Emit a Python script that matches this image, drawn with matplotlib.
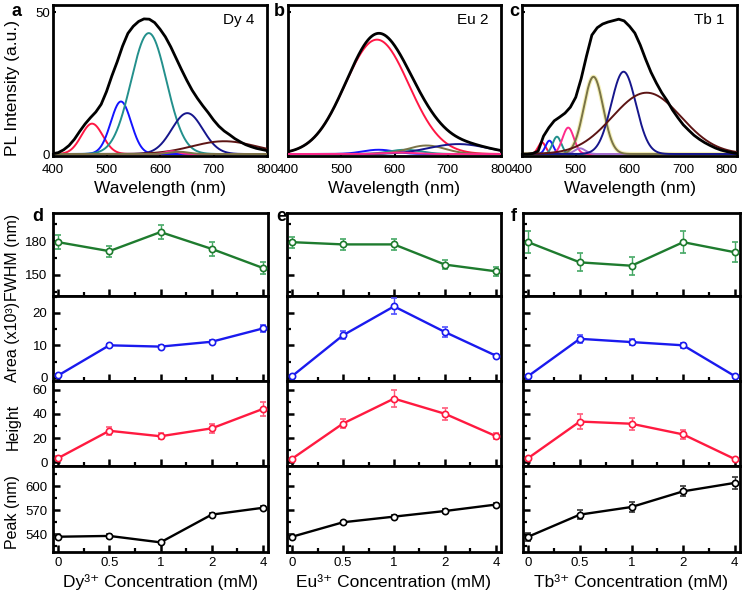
import numpy as np
import matplotlib
matplotlib.use('Agg')
import matplotlib.pyplot as plt
from matplotlib.ticker import MultipleLocator, FixedLocator

plt.rcParams['font.family'] = ['Liberation Sans', 'DejaVu Sans']
plt.rcParams['mathtext.fontset'] = 'custom'
plt.rcParams['mathtext.rm'] = 'Liberation Sans'

# ---------------- data: PL spectra ----------------
wavelength_ticks = [400, 500, 600, 700, 800]

black_wl = list(range(400, 801, 10))
dy_black = [0.1, 0.5, 1.5, 3.0, 5.2, 8.0, 10.6, 12.8, 14.8, 17.5, 22.0,
            27.5, 32.5, 38.0, 42.5, 45.0, 46.7, 47.6, 47.5, 46.3, 44.0,
            41.3, 37.8, 33.8, 29.8, 26.0, 22.5, 19.6, 17.0, 14.6, 12.0,
            9.8, 8.1, 6.8, 5.4, 4.3, 3.3, 2.6, 2.0, 1.6, 1.2]
tb_black = [0.0, 0.0, 0.2, 1.0, 6.3, 9.3, 11.7, 13.0, 14.4, 16.5, 20.0,
            26.5, 34.5, 41.9, 44.5, 45.8, 46.5, 47.0, 47.5, 46.9, 45.0,
            42.6, 38.4, 33.4, 28.8, 25.0, 21.6, 18.8, 15.5, 12.8, 10.3,
            8.4, 6.6, 5.2, 4.0, 3.0, 2.1, 1.4, 0.9, 0.5, 0.2]

# Gaussian fit components (center nm, amplitude, sigma nm)
dy_centers = [473, 527, 579, 651, 720, 622, 635]
dy_amps = [10.7, 18.5, 42.6, 14.4, 4.5, 1.0, 0.8]
dy_sigmas = [20, 19, 33, 29, 60, 12, 18]

eu_centers = [567, 570, 620, 660, 720, 610]
eu_amps = [40.3, 1.5, 1.5, 3.0, 3.5, 0.5]
eu_sigmas = [60, 30, 30, 35, 55, 30]

tb_centers = [437, 451, 465, 486, 508, 533, 589, 632]
tb_amps = [4.1, 4.7, 6.1, 9.3, 2.0, 27.2, 29.0, 21.6]
tb_sigmas = [7, 7, 8, 10.5, 10, 18, 23, 64]

spectra_labels = ['Dy 4', 'Eu 2', 'Tb 1']

# ---------------- data: fitted parameters vs concentration ----------------
conc_labels = ['0', '0.5', '1', '2', '4']

dy_fwhm = [179, 171, 188, 173, 156]
dy_fwhm_err = [6, 5, 6, 6, 5]
eu_fwhm = [179, 177, 177, 159, 153]
eu_fwhm_err = [5, 5, 5, 4, 4]
tb_fwhm = [179, 161, 158, 179, 170]
tb_fwhm_err = [10, 8, 8, 10, 9]

dy_area = [0.7, 10.0, 9.6, 11.1, 15.2]
dy_area_err = [0.4, 0.5, 0.5, 0.5, 1.2]
eu_area = [0.5, 13.1, 22.0, 14.1, 6.8]
eu_area_err = [0.4, 1.2, 2.5, 1.5, 0.5]
tb_area = [0.5, 12.0, 11.0, 10.0, 0.5]
tb_area_err = [0.4, 1.2, 0.8, 0.8, 0.4]

dy_height = [3.5, 26, 21.5, 28, 44]
dy_height_err = [1.5, 3.5, 2.5, 4, 6]
eu_height = [3, 32, 52.5, 40, 21.6]
eu_height_err = [1, 4, 7, 5, 2.5]
tb_height = [3.5, 33.6, 31.8, 23, 2.7]
tb_height_err = [1, 6, 5, 3.5, 1]

dy_peak = [537, 538, 530, 564.5, 573]
dy_peak_err = [2, 2, 2, 2, 2]
eu_peak = [537, 555, 562, 569, 577]
eu_peak_err = [2, 2, 2, 2, 2]
tb_peak = [537, 564.5, 574, 593.5, 604]
tb_peak_err = [5, 6, 6, 6, 7]

ions = ['Dy', 'Eu', 'Tb']

# ---------------- styles ----------------
W, H = 746, 596
fig = plt.figure(figsize=(W / 100, H / 100), dpi=100)


def px_axes(l, t, r, b):
    return fig.add_axes([l / W, 1 - b / H, (r - l) / W, (b - t) / H])


RED = '#ff1744'
BLUE = '#1414ff'
TEAL = '#23908c'
NAVY = '#16168c'
BROWN = '#5c1414'
PINK = '#ff2a8a'
OLIVE = '#7a7446'
PURPLE = '#a070d0'

dy_colors = [RED, BLUE, TEAL, NAVY, BROWN, PINK, OLIVE]
eu_colors = [RED, BLUE, TEAL, OLIVE, NAVY, PINK]
tb_colors = [RED, BLUE, TEAL, PINK, PURPLE, OLIVE, NAVY, BROWN]

wl = np.linspace(400, 800, 801)


def gauss(x, c, a, s):
    return a * np.exp(-0.5 * ((x - c) / s) ** 2)


top_boxes = [(53, 5, 267, 156), (288, 5, 501, 156), (522, 5, 737, 156)]
comp_sets = [(dy_centers, dy_amps, dy_sigmas, dy_colors),
             (eu_centers, eu_amps, eu_sigmas, eu_colors),
             (tb_centers, tb_amps, tb_sigmas, tb_colors)]
black_sets = [dy_black, None, tb_black]
letters_top = [('a', 12, 12), ('b', 274, 12), ('c', 509, 12)]

for i, (box, comps, lab) in enumerate(zip(top_boxes, comp_sets, spectra_labels)):
    ax = px_axes(*box)
    cs, amps, sigs, cols = comps
    total = np.zeros_like(wl)
    for c, a, s, col in zip(cs, amps, sigs, cols):
        g = gauss(wl, c, a, s)
        total += g
        if i == 2 and col == OLIVE:
            ax.plot(wl, g, color='#f3efb8', lw=3.0, zorder=2)
        ax.plot(wl, g, color=col, lw=1.4, zorder=3)
    if black_sets[i] is not None:
        ax.plot(black_wl, black_sets[i], color='black', lw=2.0, zorder=4)
    else:
        ax.plot(wl, total, color='black', lw=2.0, zorder=4)
    ax.set_xlim(400, 800)
    ax.set_ylim(-0.7, 52.5)
    ax.set_xticks(wavelength_ticks)
    ax.set_yticks([0, 50])
    ax.tick_params(direction='in', length=2.5, width=1.5, labelsize=9.5, pad=6)
    ax.tick_params(axis='y', pad=2)
    if i > 0:
        ax.set_yticklabels([])
    if i == 2:
        ax.xaxis.get_major_ticks()[-1].label1.set_horizontalalignment('right')
    for sp in ax.spines.values():
        sp.set_linewidth(2)
    ax.set_xlabel('Wavelength (nm)', fontsize=12.5, labelpad=3)
    ax.text(0.94, 0.9, lab, transform=ax.transAxes, ha='right', va='center',
            fontsize=11)
    L, x, y = letters_top[i]
    fig.text(x / W, 1 - y / H, L, fontsize=13, fontweight='bold',
             ha='left', va='center')

fig.text(13 / W, 1 - 88 / H, 'PL Intensity (a.u.)', rotation=90,
         ha='center', va='center', fontsize=12.5)

# ---------------- bottom panels ----------------
col_lr = [(53, 268), (287, 501), (523, 740)]
row_tb = [(213, 296), (296, 381), (381, 466), (466, 552)]

fwhm_sets = [(dy_fwhm, dy_fwhm_err), (eu_fwhm, eu_fwhm_err), (tb_fwhm, tb_fwhm_err)]
area_sets = [(dy_area, dy_area_err), (eu_area, eu_area_err), (tb_area, tb_area_err)]
height_sets = [(dy_height, dy_height_err), (eu_height, eu_height_err), (tb_height, tb_height_err)]
peak_sets = [(dy_peak, dy_peak_err), (eu_peak, eu_peak_err), (tb_peak, tb_peak_err)]

row_specs = [
    (fwhm_sets, '#1e7b2e', '#45a865', (131, 205), [150, 180], 15, 'FWHM (nm)'),
    (area_sets, '#1a1aee', '#5050ff', (-1, 25.2), [0, 10, 20], 5, 'Area (x10³)'),
    (height_sets, '#ff1a40', '#ff5a7a', (-3, 67), [0, 20, 40, 60], 10, 'Height'),
    (peak_sets, 'black', '#333333', (518, 625), [540, 570, 600], 15, 'Peak (nm)'),
]

letters_bot = [('d', 32, 217), ('e', 276, 217), ('f', 511, 217)]
xpos = np.arange(len(conc_labels))

for ci, (l, r) in enumerate(col_lr):
    for ri, (t, b) in enumerate(row_tb):
        sets, lc, ec, ylim, majors, minor, ylabel = row_specs[ri]
        y, e = sets[ci]
        ax = px_axes(l, t, r, b)
        ax.errorbar(xpos, y, yerr=e, fmt='-o', color=lc, ecolor=ec,
                    elinewidth=1.0, capsize=2.5, capthick=1.0,
                    mfc='white', mec=lc, ms=4.5, mew=1.2, lw=1.7, zorder=3)
        ax.set_xlim(-0.1, 4.1)
        ax.set_ylim(*ylim)
        ax.set_xticks(xpos)
        ax.xaxis.set_minor_locator(FixedLocator(xpos[:-1] + 0.5))
        ax.yaxis.set_major_locator(FixedLocator(majors))
        ax.yaxis.set_minor_locator(MultipleLocator(minor))
        ax.tick_params(which='major', direction='in', length=5, width=1.8,
                       labelsize=9.5, pad=4)
        ax.tick_params(which='minor', direction='in', length=3, width=1.6)
        ax.tick_params(axis='x', pad=3.5)
        for sp in ax.spines.values():
            sp.set_linewidth(2)
        if ci > 0:
            ax.set_yticklabels([])
        if ri < 3:
            ax.set_xticklabels([])
        else:
            ax.set_xticklabels(conc_labels)
            ax.set_xlabel(ions[ci] + '³⁺ Concentration (mM)',
                          fontsize=12.5, labelpad=4)
        if ci == 0:
            fig.text(13 / W, 1 - ((t + b) / 2 + 3) / H, ylabel, rotation=90,
                     ha='center', va='center', fontsize=11.5)
    L, x, yy = letters_bot[ci]
    fig.text(x / W, 1 - yy / H, L, fontsize=13, fontweight='bold',
             ha='left', va='center')

fig.savefig('out.png', dpi=100)
